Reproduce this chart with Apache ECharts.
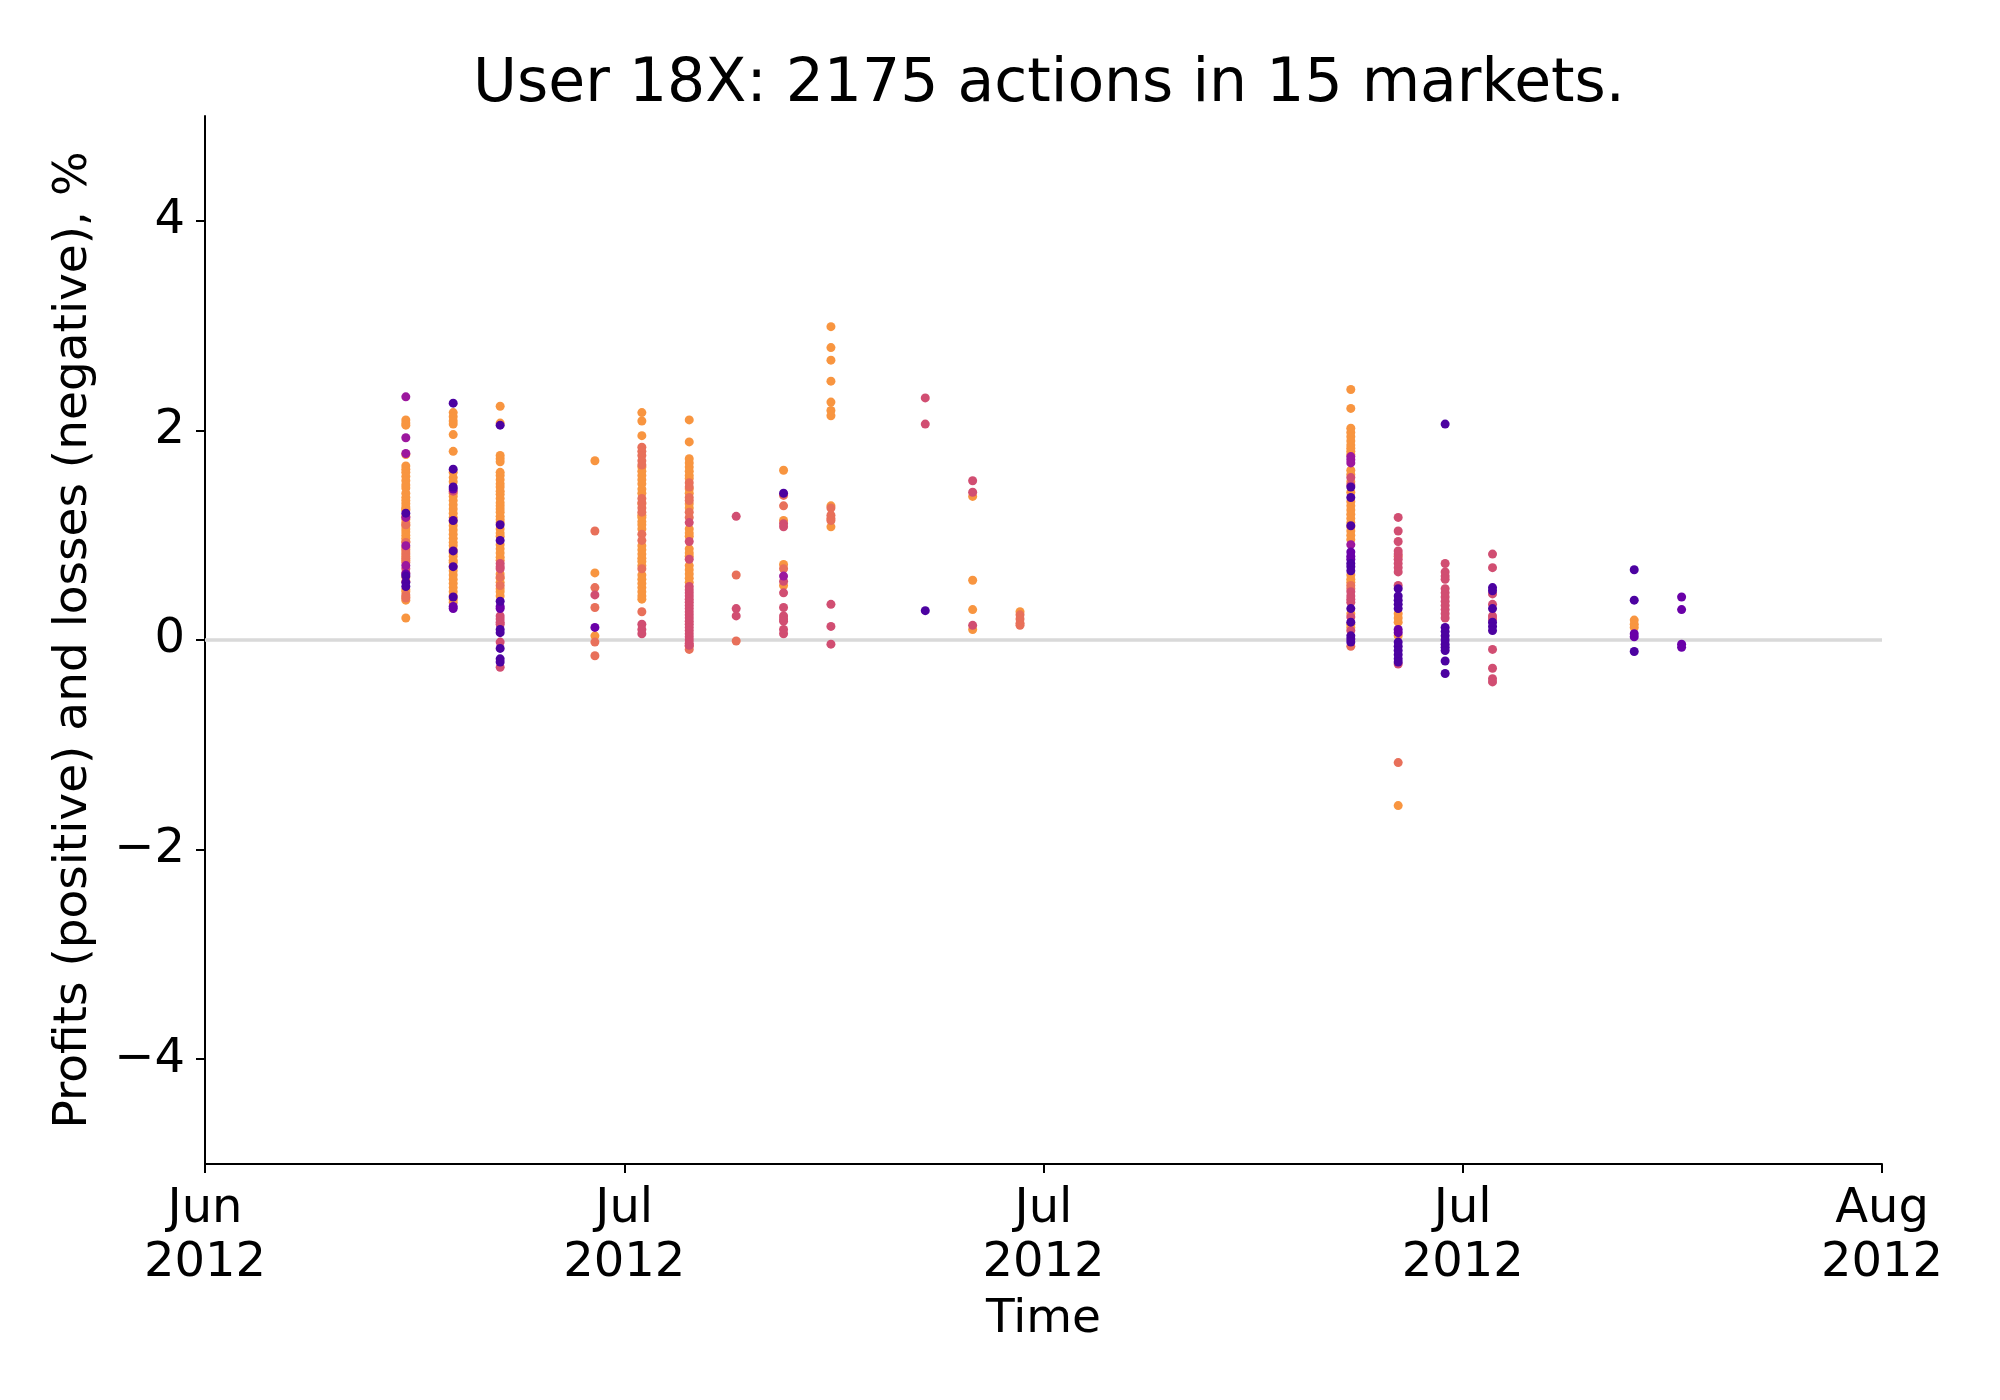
<!DOCTYPE html>
<html>
<head>
<meta charset="utf-8">
<script src="https://cdn.jsdelivr.net/npm/echarts@6/dist/echarts.min.js"></script>
<style>
html,body{margin:0;padding:0;background:#fff;}
#chart{width:2000px;height:1400px;}
</style>
</head>
<body>
<div id="chart"></div>
<script>
// ---- data ----
const titleText = 'User 18X: 2175 actions in 15 markets.';
const xTickLabels = ['Jun\n2012', 'Jul\n2012', 'Jul\n2012', 'Jul\n2012', 'Aug\n2012'];
const yTickValues = [-4, -2, 0, 2, 4];
const yTickLabels = ['\u22124', '\u22122', '0', '2', '4'];

// x position of each market column, in tick units (0 = first tick, 4 = last tick)
const marketX = [0.479, 0.592, 0.704, 0.930, 1.042, 1.155, 1.267, 1.380, 1.493,
                 1.718, 1.831, 1.944, 2.733, 2.846, 2.958, 3.071, 3.409, 3.522];

// profit/loss values (%) per market column, grouped by colour
const orangeVals = [
  [2.10, 2.07, 2.05, 1.77, 1.66, 1.63, 1.60, 1.56, 1.52, 1.48, 1.45, 1.40, 1.36, 1.33, 1.30, 1.27, 1.25, 1.24, 1.18, 1.15, 1.12, 1.09, 1.06, 1.03, 1.00, 0.97, 0.94, 0.88, 0.84, 0.80, 0.76, 0.60, 0.48, 0.46, 0.41, 0.38, 0.21],
  [2.17, 2.13, 2.09, 2.06, 1.96, 1.80, 1.60, 1.55, 1.51, 1.40, 1.37, 1.33, 1.29, 1.25, 1.21, 1.17, 1.13, 1.09, 1.05, 1.01, 0.97, 0.93, 0.90, 0.86, 0.83, 0.80, 0.76, 0.74, 0.70, 0.66, 0.62, 0.58, 0.54, 0.50, 0.46, 0.42, 0.39, 0.36],
  [2.23, 2.07, 1.76, 1.73, 1.70, 1.60, 1.57, 1.53, 1.49, 1.46, 1.42, 1.39, 1.35, 1.31, 1.28, 1.25, 1.22, 1.18, 1.15, 1.12, 1.06, 1.02, 0.99, 0.91, 0.87, 0.83, 0.79, 0.76, 0.63, 0.59, 0.55, 0.49, 0.46, 0.42],
  [1.71, 0.64, 0.04],
  [2.17, 2.09, 1.95, 1.65, 1.61, 1.57, 1.53, 1.49, 1.44, 1.40, 1.30, 1.19, 1.17, 1.13, 1.10, 1.06, 0.90, 0.86, 0.82, 0.78, 0.75, 0.71, 0.62, 0.58, 0.54, 0.50, 0.46, 0.42, 0.39],
  [2.10, 1.89, 1.73, 1.69, 1.65, 1.61, 1.57, 1.54, 1.44, 1.40, 1.30, 1.26, 1.06, 1.02, 0.99, 0.87, 0.83, 0.80, 0.71, 0.67, 0.63, 0.59, 0.55],
  [],
  [1.62, 1.14, 0.72, 0.52],
  [2.99, 2.79, 2.67, 2.47, 2.27, 2.19, 2.14, 1.28, 1.08],
  [],
  [1.37, 0.57, 0.29, 0.10],
  [0.27],
  [2.39, 2.21, 2.02, 1.98, 1.94, 1.90, 1.86, 1.83, 1.80, 1.77, 1.62, 1.58, 1.51, 1.41, 1.32, 1.28, 1.24, 1.20, 1.16, 1.12, 1.08, 1.04, 1.00, 0.96, 0.62, 0.58, 0.55, 0.25, 0.15, 0.12],
  [0.25, 0.21, 0.17, 0.04, -1.58],
  [],
  [],
  [0.19, 0.15, 0.12],
  []
];
const salmonVals = [
  [1.10, 0.93, 0.86, 0.82, 0.78, 0.74, 0.56, 0.43, 0.40],
  [],
  [0.60, 0.52],
  [1.04, 0.50, 0.31, -0.02, -0.15],
  [1.84, 1.80, 1.76, 1.71, 1.67, 1.35, 1.31, 1.26, 1.22, 1.01, 0.95, 0.68, 0.27],
  [1.50, 1.46, 1.36, 1.33, 1.22, 1.17, -0.06, -0.09],
  [0.62, -0.01],
  [1.38, 1.28, 0.68],
  [1.26, 1.19, 1.16, 1.14],
  [],
  [],
  [0.24, 0.20, 0.16, 0.14],
  [0.52, 0.49, -0.06],
  [0.80, -1.17],
  [],
  [],
  [],
  []
];
const pinkVals = [
  [0.68, 0.64],
  [1.42],
  [0.73, 0.70, 0.68, 0.23, 0.20, 0.17, 0.15, -0.02, -0.26],
  [0.43],
  [0.15, 0.10, 0.06],
  [1.12, 0.94, 0.77, 0.51, 0.48, 0.45, 0.42, 0.39, 0.36, 0.33, 0.30, 0.27, 0.24, 0.21, 0.18, 0.15, 0.12, 0.09, 0.06, 0.03, 0.00, -0.03, -0.05],
  [1.18, 0.30, 0.23],
  [1.11, 1.08, 0.56, 0.45, 0.31, 0.23, 0.20, 0.18, 0.10, 0.06],
  [0.34, 0.13, -0.04],
  [2.31, 2.06],
  [1.52, 1.41, 0.14],
  [],
  [1.55, 1.48, 0.46, 0.42, 0.39, 0.36, 0.22, 0.09],
  [1.17, 1.04, 0.94, 0.85, 0.82, 0.77, 0.73, 0.69, 0.65, 0.52, -0.23],
  [0.73, 0.65, 0.61, 0.58, 0.49, 0.45, 0.41, 0.37, 0.33, 0.29, 0.25, 0.21],
  [0.82, 0.69, 0.44, 0.34, 0.23, 0.20, -0.09, -0.27, -0.37, -0.40],
  [],
  []
];
const magentaVals = [
  [2.32, 1.93, 1.78, 1.17, 0.90, 0.71],
  [], [], [], [], [], [],
  [0.61],
  [], [], [], [],
  [1.75, 1.72, 1.69, 0.91],
  [], [], [], [], []
];
const purpleVals = [
  [0.63],
  [1.44, 0.32, 0.30],
  [0.32, 0.30],
  [0.12],
  [], [], [], [], [], [], [], [],
  [0.84, 0.80, 0.77],
  [0.10, 0.07],
  [],
  [],
  [0.06, 0.03],
  [0.41, 0.29, -0.04, -0.07]
];
const darkVals = [
  [1.21, 0.61, 0.55, 0.51],
  [2.26, 1.63, 1.46, 1.14, 0.85, 0.70, 0.41],
  [2.05, 1.10, 0.95, 0.37, 0.10, 0.07, -0.08, -0.18, -0.21],
  [], [], [], [],
  [1.40],
  [],
  [0.28],
  [], [],
  [1.46, 1.36, 1.09, 0.73, 0.70, 0.66, 0.30, 0.17, 0.04, 0.01, -0.02],
  [0.49, 0.42, 0.38, 0.34, 0.30, -0.02, -0.06, -0.10, -0.14, -0.18, -0.21],
  [2.06, 0.12, 0.08, 0.04, 0.00, -0.04, -0.07, -0.10, -0.20, -0.32],
  [0.50, 0.47, 0.30, 0.17, 0.13, 0.09],
  [0.67, 0.38, -0.11],
  []
];

// ---- build chart ----
const groups = [
  { vals: orangeVals, color: '#f89540' },
  { vals: salmonVals, color: '#e8705a' },
  { vals: pinkVals, color: '#d14e72' },
  { vals: magentaVals, color: '#9c179e' },
  { vals: purpleVals, color: '#6a00a8' },
  { vals: darkVals, color: '#4c02a1' }
];
function toPoints(vals) {
  const out = [];
  vals.forEach((list, i) => list.forEach(v => out.push([marketX[i], v])));
  return out;
}
const FONT = 'DejaVu Sans';
const series = [{
  type: 'line',
  data: [[0, 0], [4, 0]],
  symbol: 'none',
  silent: true,
  z: 1,
  lineStyle: { color: '#d9d9d9', width: 3.5 }
}];
groups.forEach((g, k) => series.push({
  type: 'scatter',
  data: toPoints(g.vals),
  symbolSize: 9,
  z: 2 + k,
  itemStyle: { color: g.color, opacity: 1 }
}));

const chart = echarts.init(document.getElementById('chart'), null, { renderer: 'canvas' });
chart.setOption({
  animation: false,
  backgroundColor: '#ffffff',
  title: {
    text: titleText,
    left: 1044,
    textAlign: 'center',
    top: 50,
    textStyle: { fontFamily: FONT, fontSize: 60, fontWeight: 'normal', color: '#000' }
  },
  grid: { left: 205, right: 118, top: 116, bottom: 236, containLabel: false },
  xAxis: {
    type: 'value',
    min: 0, max: 4, interval: 1,
    name: 'Time',
    nameLocation: 'middle',
    nameGap: 131,
    nameTextStyle: { fontFamily: FONT, fontSize: 47, color: '#000' },
    axisLine: { show: true, onZero: false, lineStyle: { color: '#000', width: 2 } },
    axisTick: { show: true, length: 9, lineStyle: { color: '#000', width: 2 } },
    axisLabel: {
      fontFamily: FONT, fontSize: 48, color: '#000', lineHeight: 54, margin: 19,
      formatter: v => xTickLabels[Math.round(v)]
    },
    splitLine: { show: false }
  },
  yAxis: {
    type: 'value',
    min: -5, max: 5,
    name: 'Profits (positive) and losses (negative), %',
    nameLocation: 'middle',
    nameGap: 108,
    nameTextStyle: { fontFamily: FONT, fontSize: 47, color: '#000' },
    axisLine: { show: true, lineStyle: { color: '#000', width: 2 } },
    axisTick: { show: true, length: 9, lineStyle: { color: '#000', width: 2 }, customValues: yTickValues },
    axisLabel: {
      fontFamily: FONT, fontSize: 48, color: '#000', margin: 20,
      customValues: yTickValues,
      formatter: v => yTickLabels[yTickValues.indexOf(Math.round(v))]
    },
    splitLine: { show: false }
  },
  series: series
});
</script>
</body>
</html>
